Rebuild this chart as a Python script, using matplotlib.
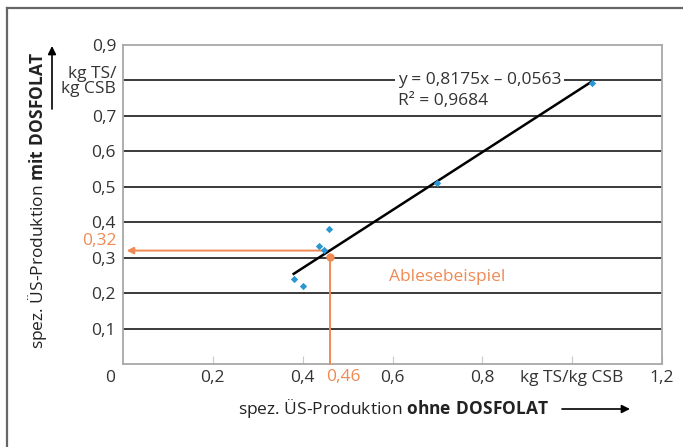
import matplotlib.pyplot as plt
import matplotlib.transforms as mtransforms

plt.rcParams['font.family'] = ['Open Sans', 'DejaVu Sans']
plt.rcParams['mathtext.fontset'] = 'custom'
plt.rcParams['mathtext.rm'] = 'Open Sans'
plt.rcParams['mathtext.bf'] = 'Open Sans:bold'

# data
x_ohne = [0.38, 0.40, 0.437, 0.448, 0.459, 0.70, 1.044]
y_mit = [0.24, 0.22, 0.333, 0.322, 0.381, 0.51, 0.792]

# regression given in the chart
slope = 0.8175
intercept = -0.0563
fit_x = [0.38, 1.044]

# reading example
ex_x = 0.46
ex_y = 0.32

x_ticks = [0.2, 0.4, 0.6, 0.8, 1.0, 1.2]
x_ticklabels = ['0,2', '0,4', '0,6', '0,8', 'kg TS/kg CSB', '1,2']
y_ticks = [0.1, 0.2, 0.3, 0.4, 0.5, 0.6, 0.7, 0.8, 0.9]
y_ticklabels = ['0,1', '0,2', '0,3', '0,4', '0,5', '0,6', '0,7', 'kg TS/\nkg CSB', '0,9']

blue = '#2a96d4'
orange = '#ef8a55'
grid_col = '#3a3a3a'
frame_col = '#a8a8a8'
fs = 12.5

fig = plt.figure(figsize=(6.83, 4.47), dpi=100)
ax = fig.add_axes([123/683, 1 - 364/447, 539/683, 319/447])
ax.set_xlim(0, 1.2)
ax.set_ylim(0, 0.9)

for v in y_ticks[:-1]:
    ax.axhline(v, color=grid_col, lw=1.4, zorder=1)

for s in ax.spines.values():
    s.set_color(frame_col)
    s.set_linewidth(1.3)

ax.set_xticks(x_ticks)
ax.set_xticklabels(x_ticklabels, fontsize=fs, color='#333333')
ax.tick_params(axis='x', direction='in', length=6, color='#c8c8c8', pad=4)
ax.set_yticks(y_ticks)
ax.set_yticklabels(y_ticklabels, fontsize=fs, color='#333333', linespacing=0.9)
ax.tick_params(axis='y', length=0, pad=5)

# corner "0"
ax.text(-0.028, -0.04, '0', fontsize=fs, color='#333333', ha='center', va='center',
        clip_on=False)

# regression line and points
fit_y = [slope * v + intercept for v in fit_x]
ax.plot(fit_x, fit_y, color='black', lw=1.8, zorder=4)
ax.scatter(x_ohne, y_mit, s=14, color=blue, marker='D', zorder=5, linewidths=0)

ax.text(0.612, 0.80, 'y = 0,8175x \u2013 0,0563', fontsize=fs, color='#333333',
        ha='left', va='center', zorder=3,
        bbox=dict(boxstyle='square,pad=0.15', fc='white', ec='none'))
ax.text(0.612, 0.743, 'R\u00b2 = 0,9684', fontsize=fs, color='#333333',
        ha='left', va='center', zorder=3)

# reading example in orange
ax.plot([ex_x, ex_x], [0, 0.303], color=orange, lw=1.4, zorder=3, clip_on=False)
ax.plot([ex_x], [0.303], 'o', color=orange, ms=5, zorder=6)
ax.annotate('', xy=(0.008, ex_y), xytext=(ex_x, ex_y),
            arrowprops=dict(arrowstyle='-|>', color=orange, lw=1.4,
                            mutation_scale=10, shrinkA=0, shrinkB=0), zorder=3)
ax.text(0.592, 0.245, 'Ablesebeispiel', fontsize=fs, color=orange, ha='left', va='center')

trans_x = mtransforms.blended_transform_factory(ax.transData, ax.transAxes)
ax.text(ex_x - 0.008, -0.04, '0,46', fontsize=fs, color=orange, transform=trans_x,
        ha='left', va='center', clip_on=False)
trans_y = mtransforms.blended_transform_factory(ax.transAxes, ax.transData)
ax.text(-0.011, 0.346, '0,32', fontsize=fs, color=orange, transform=trans_y,
        ha='right', va='center', clip_on=False)

# axis titles with arrows
fig.text(38/683, 1 - 200/447, 'spez. \u00dcS-Produktion $\\mathbf{mit\\ DOSFOLAT}$',
         rotation=90, ha='center', va='center', fontsize=fs, color='#222222')
fig.text(393/683, 1 - 409/447, 'spez. \u00dcS-Produktion $\\mathbf{ohne\\ DOSFOLAT}$',
         ha='center', va='center', fontsize=fs, color='#222222')
ax.annotate('', xy=(52/683, 1 - 46/447), xytext=(52/683, 1 - 109/447),
            xycoords='figure fraction',
            arrowprops=dict(arrowstyle='-|>', color='black', lw=1.2,
                            mutation_scale=12, shrinkA=0, shrinkB=0))
ax.annotate('', xy=(630/683, 1 - 409/447), xytext=(562/683, 1 - 409/447),
            xycoords='figure fraction',
            arrowprops=dict(arrowstyle='-|>', color='black', lw=1.2,
                            mutation_scale=12, shrinkA=0, shrinkB=0))

# outer frame (left and top edges only)
fig.add_artist(plt.Line2D([7/683, 7/683], [0, 1 - 8/447], color='#666666', lw=1.6,
                          transform=fig.transFigure))
fig.add_artist(plt.Line2D([7/683, 1], [1 - 8/447, 1 - 8/447], color='#666666', lw=1.6,
                          transform=fig.transFigure))

fig.savefig('out.png', dpi=100)
